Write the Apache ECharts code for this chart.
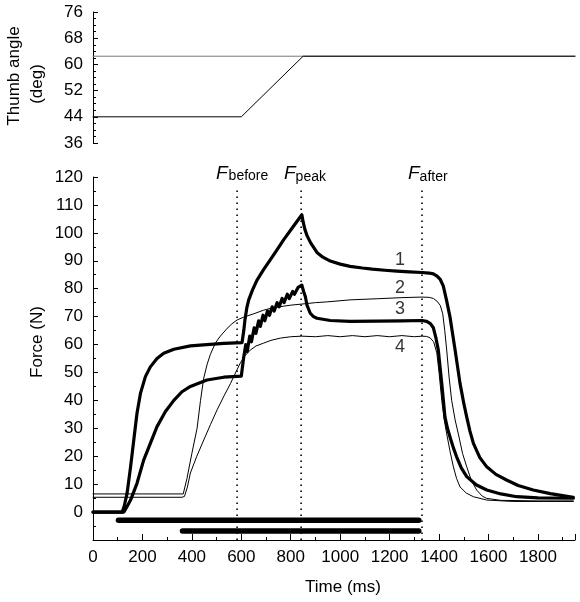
<!DOCTYPE html>
<html><head><meta charset="utf-8">
<script src="https://cdn.jsdelivr.net/npm/echarts@6/dist/echarts.min.js"></script>
<style>html,body{margin:0;padding:0;background:#fff}#c{width:580px;height:602px}</style>
</head><body><div id="c"></div>
<script>
// ---- data ----
const angleRef = [[0,62.5],[1950,62.5]];
const angleTrace = [[0,44],[600,44],[850,62.5],[1950,62.5]];

const force1 = [[0,0],[118,0],[126,2],[138,6.8],[152,16.2],[165,25.8],[178,35.4],[192,42.5],[212,48.5],[232,52],[259,55],[286,56.9],[327,58.3],[394,59.5],[460,60],[529,60.4],[603,60.7],[606,61],[610,65],[615,69],[622,73],[630,76],[645,79.5],[663,83],[690,86.8],[717,90.3],[745,94],[771,97.5],[808,102],[845,106.5],[850,104],[858,101],[866,99],[880,96.5],[906,93],[930,91.3],[960,89.9],[1000,88.8],[1040,88],[1090,87.4],[1130,87],[1180,86.6],[1229,86.3],[1280,86],[1331,85.8],[1360,85.6],[1377,85.3],[1392,84.5],[1405,83.3],[1417,81],[1430,76],[1444,70],[1465,58],[1485,46],[1500,39],[1512,34],[1525,29],[1539,24.6],[1565,19.5],[1593,16.2],[1630,13.5],[1673,11.5],[1720,9.5],[1781,7.9],[1850,6.6],[1900,5.9],[1943,5.3]];
const force2 = [[0,6.5],[365,6.5],[380,12],[400,21],[421,30],[435,40],[448,48],[462,53],[475,56.5],[495,60.5],[515,63],[540,65.5],[560,67.3],[583,68.8],[609,69.8],[650,71],[690,72.3],[720,73],[760,73.6],[800,74.1],[845,74.5],[900,75],[950,75.3],[1040,76],[1150,76.4],[1250,76.8],[1331,77],[1360,76.9],[1377,76.5],[1392,75.5],[1405,74],[1415,71],[1423,65],[1431,58],[1441,48],[1451,40],[1465,33],[1478,28],[1495,21],[1512,16.2],[1530,11.5],[1552,7.9],[1575,5.7],[1593,4.9],[1650,4.2],[1800,4],[1943,4]];
const force3 = [[0,0],[125,0],[138,2],[152,4.3],[178,10.3],[205,18.6],[232,24.6],[259,30.6],[293,36],[327,40],[360,43.1],[394,45],[461,47.3],[529,48.3],[600,48.7],[605,49],[609,55],[618,60],[624,57.5],[634,63],[641,61],[652,66],[659,64],[670,68.5],[677,66.5],[688,70.5],[695,68.5],[706,72],[714,70.5],[725,73.5],[733,72],[745,75],[753,73.5],[765,76.5],[773,75],[786,78],[794,76.5],[808,79],[815,78],[830,80.5],[845,81.3],[852,79],[859,77.2],[866,74],[879,71.2],[892,70],[906,69.4],[960,68.6],[1040,68.3],[1150,68.4],[1250,68.5],[1331,68.6],[1350,68.3],[1365,67.5],[1377,66],[1387,62.5],[1397,58],[1411,46],[1424,34],[1434,30],[1444,27],[1458,23],[1471,19.8],[1490,15.8],[1512,12.7],[1550,9.8],[1593,7.9],[1650,6.5],[1714,5.5],[1800,5.1],[1943,5]];
const force4 = [[0,5.3],[360,5.3],[370,5.6],[382,9],[394,14],[420,20],[448,25.8],[475,31.3],[502,36.6],[530,41.6],[556,46],[580,50.5],[596,53.4],[615,56],[636,58],[660,59.5],[690,60.5],[720,61.5],[758,62.3],[800,62.8],[845,63],[900,62.8],[950,63.2],[1000,62.8],[1050,63.2],[1100,62.8],[1150,63.2],[1200,62.8],[1250,63.2],[1300,62.8],[1331,63],[1350,62.9],[1364,62.4],[1378,61],[1391,57],[1400,50],[1411,40],[1421,33],[1431,28],[1445,21.5],[1458,16.2],[1471,12],[1485,9],[1510,6.8],[1539,5.5],[1593,4.3],[1700,3.8],[1943,3.8]];

const bar1 = [[103,-2.9],[1318,-2.9]];
const bar2 = [[362,-6.8],[1318,-6.8]];

const eventTimes = [583, 842, 1331];
const eventTop = 116;
const curveLabels = [[1242,90.3,'1'],[1242,80.3,'2'],[1242,72.8,'3'],[1242,59.1,'4']];

const xTicks = {min:0, max:1950, interval:200};
const angleTicks = {min:36, max:76, interval:8};
const forceTicks = {min:-10, max:120, interval:10};

// ---- chart ----
const FONT = 'Liberation Sans';
const chart = echarts.init(document.getElementById('c'), null, {renderer:'canvas'});
const thick = 3.2, thin = 1;
function lineSeries(data, w, xi, yi, color){
  return {type:'line', xAxisIndex:xi, yAxisIndex:yi, data:data, symbol:'none', smooth:false, silent:true,
    lineStyle:{color:color||'#000', width:w, cap:'round', join:'round'}, z:3};
}
const series = [
  lineSeries(angleRef, 1, 0, 0, '#777'),
  lineSeries(angleTrace, 1, 0, 0, '#000'),
  lineSeries(force2, thin, 1, 1),
  lineSeries(force4, thin, 1, 1),
  lineSeries(force1, thick, 1, 1),
  lineSeries(force3, thick, 1, 1),
  lineSeries(bar1, 5.5, 1, 1),
  lineSeries(bar2, 5.5, 1, 1)
];
eventTimes.forEach(t=>{
  series.push({type:'line', xAxisIndex:1, yAxisIndex:1, symbol:'none', silent:true, z:2,
    data:[[t,forceTicks.min],[t,eventTop]],
    lineStyle:{color:'#000', width:1.6, type:[1.6,4.4]}});
});
series.push({type:'scatter', xAxisIndex:1, yAxisIndex:1, symbolSize:0, silent:true,
  data:curveLabels.map(d=>({value:[d[0],d[1]], name:d[2]})),
  label:{show:true, position:'inside', formatter:p=>p.name, color:'#000', fontFamily:FONT, fontSize:18}});

const labelStyle = {color:'#000', fontFamily:FONT, fontSize:17};
chart.setOption({
  animation:false,
  backgroundColor:'#fff',
  grid:[
    {left:93, top:12, right:5, height:131},
    {left:93, top:177, right:5, bottom:62}
  ],
  xAxis:[
    {gridIndex:0, type:'value', min:xTicks.min, max:xTicks.max, show:false},
    {gridIndex:1, type:'value', min:xTicks.min, max:xTicks.max, interval:xTicks.interval,
      axisLine:{onZero:false, lineStyle:{color:'#000', width:1}},
      axisTick:{inside:true, length:6, lineStyle:{color:'#000'}},
      minorTick:{show:true, splitNumber:2, length:3, lineStyle:{color:'#000'}},
      splitLine:{show:false},
      axisLabel:Object.assign({margin:9, showMaxLabel:false, formatter:v=> v>1800?'':String(v)}, labelStyle)}
  ],
  yAxis:[
    {gridIndex:0, type:'value', min:angleTicks.min, max:angleTicks.max, interval:angleTicks.interval,
      axisLine:{show:true, onZero:false, lineStyle:{color:'#000'}},
      axisTick:{show:true, inside:true, length:5, lineStyle:{color:'#000'}},
      minorTick:{show:true, splitNumber:4, length:3, lineStyle:{color:'#000'}},
      splitLine:{show:false},
      axisLabel:Object.assign({margin:10}, labelStyle)},
    {gridIndex:1, type:'value', min:forceTicks.min, max:forceTicks.max, interval:forceTicks.interval,
      axisLine:{show:true, onZero:false, lineStyle:{color:'#000'}},
      axisTick:{show:true, inside:true, length:5, lineStyle:{color:'#000'}},
      minorTick:{show:true, splitNumber:2, length:3, lineStyle:{color:'#000'}},
      splitLine:{show:false},
      axisLabel:Object.assign({margin:10, formatter:v=> v<0?'':String(v)}, labelStyle)}
  ],
  graphic:[
    {type:'text', x:14.5, y:76, rotation:Math.PI/2, style:{text:'Thumb angle', fontFamily:FONT, fontSize:17, fill:'#000', align:'center', verticalAlign:'middle'}},
    {type:'text', x:37, y:84, rotation:Math.PI/2, style:{text:'(deg)', fontFamily:FONT, fontSize:17, fill:'#000', align:'center', verticalAlign:'middle'}},
    {type:'text', x:37, y:342, rotation:Math.PI/2, style:{text:'Force (N)', fontFamily:FONT, fontSize:17, fill:'#000', align:'center', verticalAlign:'middle'}},
    {type:'text', x:343, y:587, style:{text:'Time (ms)', fontFamily:FONT, fontSize:17, fill:'#000', align:'center', verticalAlign:'middle'}},
    {type:'text', x:216, y:174, style:{rich:{f:{fontFamily:FONT, fontStyle:'italic', fontSize:19, fill:'#000'}, s:{fontFamily:FONT, fontSize:14, fill:'#000', padding:[4,0,0,1]}}, text:'{f|F}{s|before}', verticalAlign:'middle'}},
    {type:'text', x:284, y:174, style:{rich:{f:{fontFamily:FONT, fontStyle:'italic', fontSize:19, fill:'#000'}, s:{fontFamily:FONT, fontSize:14, fill:'#000', padding:[6,0,0,0]}}, text:'{f|F}{s|peak}', verticalAlign:'middle'}},
    {type:'text', x:408, y:174, style:{rich:{f:{fontFamily:FONT, fontStyle:'italic', fontSize:19, fill:'#000'}, s:{fontFamily:FONT, fontSize:14, fill:'#000', padding:[6,0,0,0]}}, text:'{f|F}{s|after}', verticalAlign:'middle'}}
  ],
  series:series
});
</script></body></html>
